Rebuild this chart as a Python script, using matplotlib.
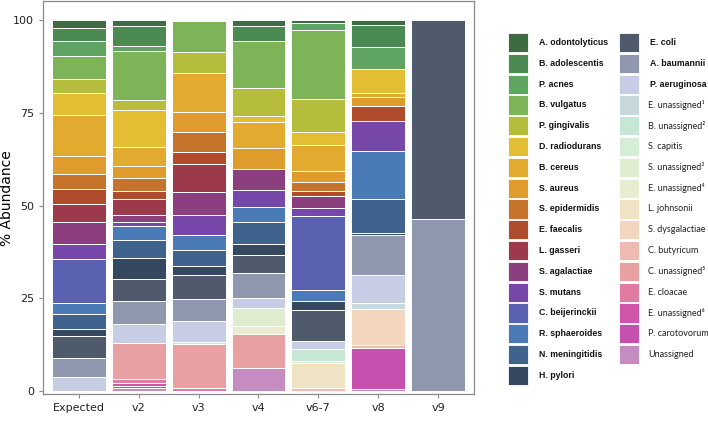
import numpy as np
import matplotlib
matplotlib.use("Agg")
import matplotlib.pyplot as plt
from matplotlib.patches import Rectangle

samples = ["Expected", "v2", "v3", "v4", "v6-7", "v8", "v9"]

species = [
    "A. odontolyticus", "B. adolescentis", "P. acnes", "B. vulgatus", "P. gingivalis",
    "D. radiodurans", "B. cereus", "S. aureus", "S. epidermidis", "E. faecalis",
    "L. gasseri", "S. agalactiae", "S. mutans", "C. beijerinckii", "R. sphaeroides",
    "N. meningitidis", "H. pylori", "E. coli", "A. baumannii", "P. aeruginosa",
    "E. unassigned\u00b9", "B. unassigned\u00b2", "S. capitis", "S. unassigned\u00b3",
    "E. unassigned\u2074", "L. johnsonii", "S. dysgalactiae", "C. butyricum",
    "C. unassigned\u2075", "E. cloacae", "E. unassigned\u2076", "P. carotovorum", "Unassigned",
]
n_bold = 20

colors = [
    "#3f6b42", "#4b8a52", "#5fa463", "#7db457", "#b6bd3d",
    "#e3be32", "#e2aa2e", "#df9b2b", "#c6732b", "#b04b2b",
    "#9c3a4c", "#8b3f7f", "#7747a9", "#5b61b1", "#4b7bb7",
    "#40638e", "#35485f", "#4f5a6c", "#8f98af", "#c8cde6",
    "#c7d9dd", "#c6e6d6", "#d5ecd5", "#dfecd0", "#e8edd2",
    "#efe2c5", "#f3d6be", "#f0bab2", "#e9a0a3", "#e07ba1",
    "#d054a9", "#c650ae", "#c48cc1",
]

# % abundance per species (same order as species list)
expected = [2.1, 3.6, 4.1, 6.0, 3.9, 6.0, 10.9, 5.0, 3.9, 4.0, 4.9, 6.0, 4.0, 11.9, 2.9, 4.1, 1.9, 5.9, 5.0, 3.9,
            0, 0, 0, 0, 0, 0, 0, 0, 0, 0, 0, 0, 0]
v2 = [1.5, 5.4, 1.5, 13.1, 2.8, 10.0, 5.1, 3.3, 3.3, 2.2, 4.4, 1.9, 0.9, 0, 3.8, 4.9, 5.8, 5.8, 6.1, 5.3,
      0, 0, 0, 0, 0, 0, 0, 0, 9.7, 1.0, 0.8, 0.7, 0.7]
v3 = [0, 0, 0.4, 8.3, 5.7, 0, 10.3, 5.6, 5.3, 3.3, 7.5, 6.2, 5.4, 0, 4.1, 4.2, 2.4, 6.4, 6.1, 5.6,
      0, 0.5, 0, 0, 0, 0, 0, 0, 11.9, 0.8, 0, 0, 0]
v4 = [1.6, 4.1, 0, 12.6, 7.7, 1.6, 6.9, 5.7, 0, 0, 0, 5.5, 4.8, 0, 3.9, 6.0, 2.9, 4.8, 6.7, 2.8,
      0, 0, 0, 4.9, 2.0, 0, 0, 0, 9.2, 0, 0, 0, 6.3]
v6_7 = [0.8, 0, 1.9, 18.7, 8.9, 3.3, 7.0, 3.0, 2.5, 1.4, 0, 3.2, 2.1, 19.9, 3.0, 0, 2.5, 8.4, 0, 2.1,
        0, 3.1, 0.6, 0, 0, 6.8, 0, 0.8, 0, 0, 0, 0, 0]
v8 = [1.4, 5.9, 6.0, 0, 0, 6.3, 1.2, 2.3, 0, 4.0, 0, 0, 8.1, 0, 13.0, 9.1, 0.6, 0, 10.8, 7.7,
      1.6, 0, 0, 0, 0, 0, 9.7, 0.7, 0, 0, 0, 11.1, 0.5]
v9 = [0, 0, 0, 0, 0, 0, 0, 0, 0, 0, 0, 0, 0, 0, 0, 0, 0, 53.6, 46.4, 0,
      0, 0, 0, 0, 0, 0, 0, 0, 0, 0, 0, 0, 0]

data = np.array([expected, v2, v3, v4, v6_7, v8, v9])  # samples x species

fig = plt.figure(figsize=(7.08, 4.29), dpi=100)
ax = fig.add_axes([0.0607, 0.0816, 0.6088, 0.915])

x = np.arange(len(samples))
# first species sits on top of the stack
bottom = np.zeros(len(samples))
for j in range(len(species) - 1, -1, -1):
    vals = data[:, j]
    ax.bar(x, vals, width=0.9, bottom=bottom, color=colors[j],
           edgecolor="white", linewidth=0.7)
    bottom += vals

ax.set_xlim(-0.6, len(samples) - 0.4)
ax.set_ylim(-0.8, 105)
ax.set_yticks([0, 25, 50, 75, 100])
ax.set_xticks(x)
ax.set_xticklabels(samples)
ax.set_ylabel("% Abundance", fontsize=10)
ax.yaxis.set_label_coords(-0.068, 0.5)
for sp in ax.spines.values():
    sp.set_color("#8a8a8a")
    sp.set_linewidth(0.9)
ax.tick_params(colors="#8a8a8a", labelcolor="#222222", labelsize=8, length=3, width=0.8)

# legend built as two columns of swatches
lax = fig.add_axes([0, 0, 1, 1])
lax.set_xlim(0, 708)
lax.set_ylim(429, 0)
lax.axis("off")
n_col1 = 17
for i, (name, c) in enumerate(zip(species, colors)):
    col, row = (0, i) if i < n_col1 else (1, i - n_col1)
    kx = 508 if col == 0 else 619
    ky = 42.5 + row * 20.8
    lax.add_patch(Rectangle((kx, ky - 9.6), 20, 19.2, facecolor=c, edgecolor="white", linewidth=0.6))
    if i < n_bold:
        lax.text(kx + 31, ky, name, fontsize=6.3, fontweight="bold",
                 family="Liberation Sans", va="center", ha="left", color="#111111")
    else:
        lax.text(kx + 29, ky, name, fontsize=6.5, family=["Lato", "DejaVu Sans"],
                 va="center", ha="left", color="#222222")

fig.savefig("out.png", dpi=100)
